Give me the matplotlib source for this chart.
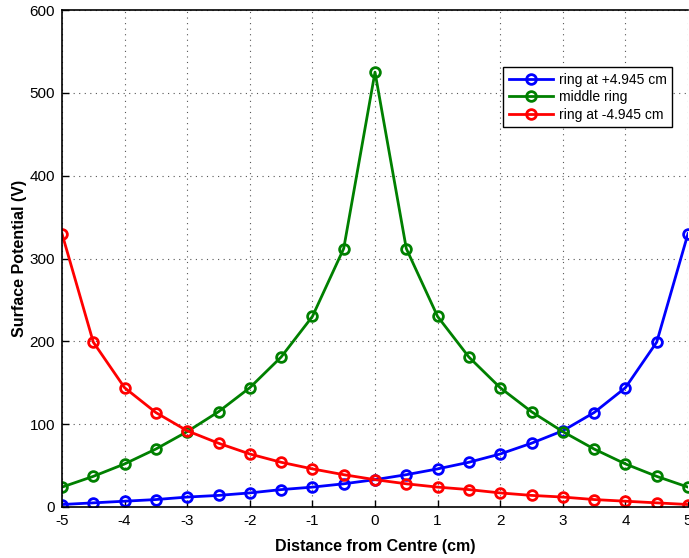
import matplotlib
matplotlib.use("Agg")
import matplotlib.pyplot as plt
import numpy as np

plt.rcParams['font.family'] = ['Liberation Sans', 'DejaVu Sans']
plt.rcParams['axes.unicode_minus'] = False

x = [-5, -4.5, -4, -3.5, -3, -2.5, -2, -1.5, -1, -0.5, 0, 0.5, 1, 1.5, 2, 2.5, 3, 3.5, 4, 4.5, 5]
ring_plus = [3, 5, 7, 9, 12, 14, 17, 21, 24, 28, 33, 39, 46, 54, 64, 77, 92, 114, 144, 199, 330]
middle = [24, 37, 52, 70, 91, 115, 144, 181, 230, 312, 525, 312, 230, 181, 144, 115, 91, 70, 52, 37, 24]
ring_minus = [330, 199, 144, 114, 92, 77, 64, 54, 46, 39, 33, 28, 24, 21, 17, 14, 12, 9, 7, 5, 3]
labels = ['ring at +4.945 cm', 'middle ring', 'ring at -4.945 cm']

fig = plt.figure(figsize=(6.89, 5.58), dpi=100)
ax = fig.add_axes([62/689, 1-507/558, (688-62)/689, (507-10)/558])

style = dict(linewidth=2, marker='o', markersize=7, markerfacecolor='none', markeredgewidth=2)
ax.plot(x, ring_plus, color='#0000ff', label=labels[0], **style)
ax.plot(x, middle, color='#008000', label=labels[1], **style)
ax.plot(x, ring_minus, color='#ff0000', label=labels[2], **style)

ax.set_xlim(-5, 5)
ax.set_ylim(0, 600)
ax.set_xticks(range(-5, 6))
ax.set_yticks(range(0, 601, 100))
ax.grid(True, linestyle=(0, (1, 4)), color='#555555', linewidth=0.8)
ax.tick_params(direction='in', length=5, labelsize=11, width=1, pad=5)
ax.spines['right'].set_visible(False)
for s in ax.spines.values():
    s.set_linewidth(1.2)

ax.set_xlabel('Distance from Centre (cm)', fontsize=11.5, fontweight='bold', labelpad=8)
ax.set_ylabel('Surface Potential (V)', fontsize=11.5, fontweight='bold', labelpad=2)

leg = ax.legend(loc='upper left', bbox_to_anchor=((503-62)/626, 1-(67-10)/497), fontsize=10,
                fancybox=False, edgecolor='black', framealpha=1, borderpad=0.4,
                handlelength=3.2, labelspacing=0.25, handletextpad=0.4, borderaxespad=0)
leg.get_frame().set_linewidth(1)

fig.savefig('out.png', dpi=100)
